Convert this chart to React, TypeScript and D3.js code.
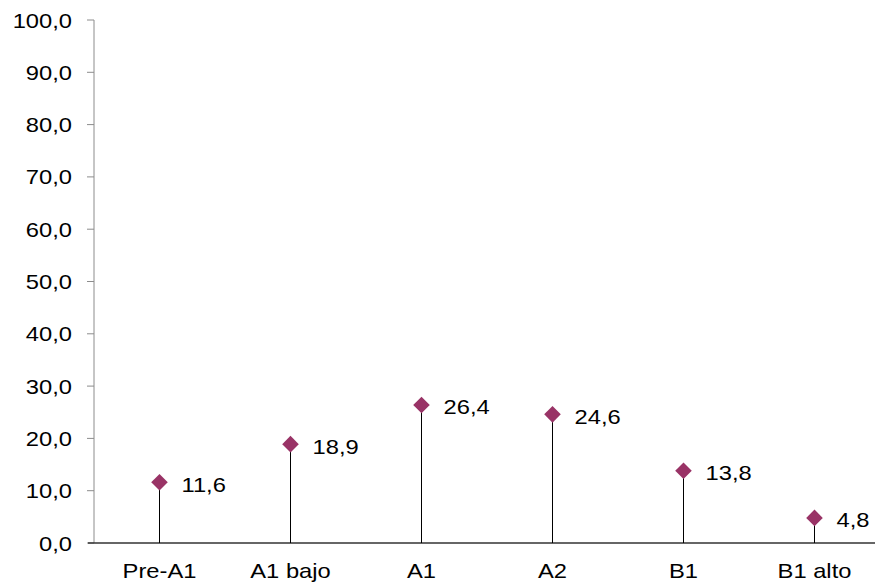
import React from "react";
import * as d3 from "d3";

const categories = ["Pre-A1", "A1 bajo", "A1", "A2", "B1", "B1 alto"];
const values = [11.6, 18.9, 26.4, 24.6, 13.8, 4.8];
const yTicks = [0, 10, 20, 30, 40, 50, 60, 70, 80, 90, 100];

const W = 875;
const H = 584;
const left = 94;
const right = 880;
const top = 20;
const bottom = 543;
const FONT = "'Liberation Sans', Arial, sans-serif";
const SX = 1.13;
const FS = 21;

export default function App() {
  const x = d3.scaleBand<string>().domain(categories).range([left, right]);
  const y = d3.scaleLinear().domain([0, 100]).range([bottom, top]);
  const fmt = (v: number) => v.toFixed(1).replace(".", ",");
  const diamond = d3.symbol().type(d3.symbolDiamond2).size(175)() as string;

  return (
    <svg width={W} height={H} style={{ position: "absolute", left: 0, top: 0 }}>
      <rect width={W} height={H} fill="#fff" />
      {/* y axis */}
      <line x1={left} x2={left} y1={top} y2={bottom} stroke="#8c8c8c" strokeWidth={1} />
      {yTicks.map((t) => (
        <g key={t}>
          <line x1={left - 7} x2={left} y1={y(t)} y2={y(t)} stroke="#8c8c8c" />
          <text
            transform={`translate(${left - 22},${y(t) + 7.5}) scale(${SX},1)`}
            textAnchor="end"
            fontFamily={FONT}
            fontSize={FS}
            fill="#000"
          >
            {fmt(t)}
          </text>
        </g>
      ))}
      {/* x axis */}
      <line x1={left - 6} x2={W} y1={bottom} y2={bottom} stroke="#333" strokeWidth={1.3} />
      {categories.map((c) => (
        <text
          key={c}
          transform={`translate(${x(c)! + x.bandwidth() / 2},578) scale(${SX},1)`}
          textAnchor="middle"
          fontFamily={FONT}
          fontSize={FS}
          fill="#000"
        >
          {c}
        </text>
      ))}
      {/* stems and markers */}
      {categories.map((c, i) => {
        const cx = x(c)! + x.bandwidth() / 2;
        const cy = y(values[i]);
        return (
          <g key={c}>
            <line x1={cx} x2={cx} y1={cy} y2={bottom} stroke="#000" strokeWidth={1} />
            <path d={diamond} transform={`translate(${cx},${cy})`} fill="#993366" />
            <text
              transform={`translate(${cx + 22},${cy + 9.5}) scale(${SX},1)`}
              fontFamily={FONT}
              fontSize={FS}
              fill="#000"
            >
              {fmt(values[i])}
            </text>
          </g>
        );
      })}
    </svg>
  );
}
